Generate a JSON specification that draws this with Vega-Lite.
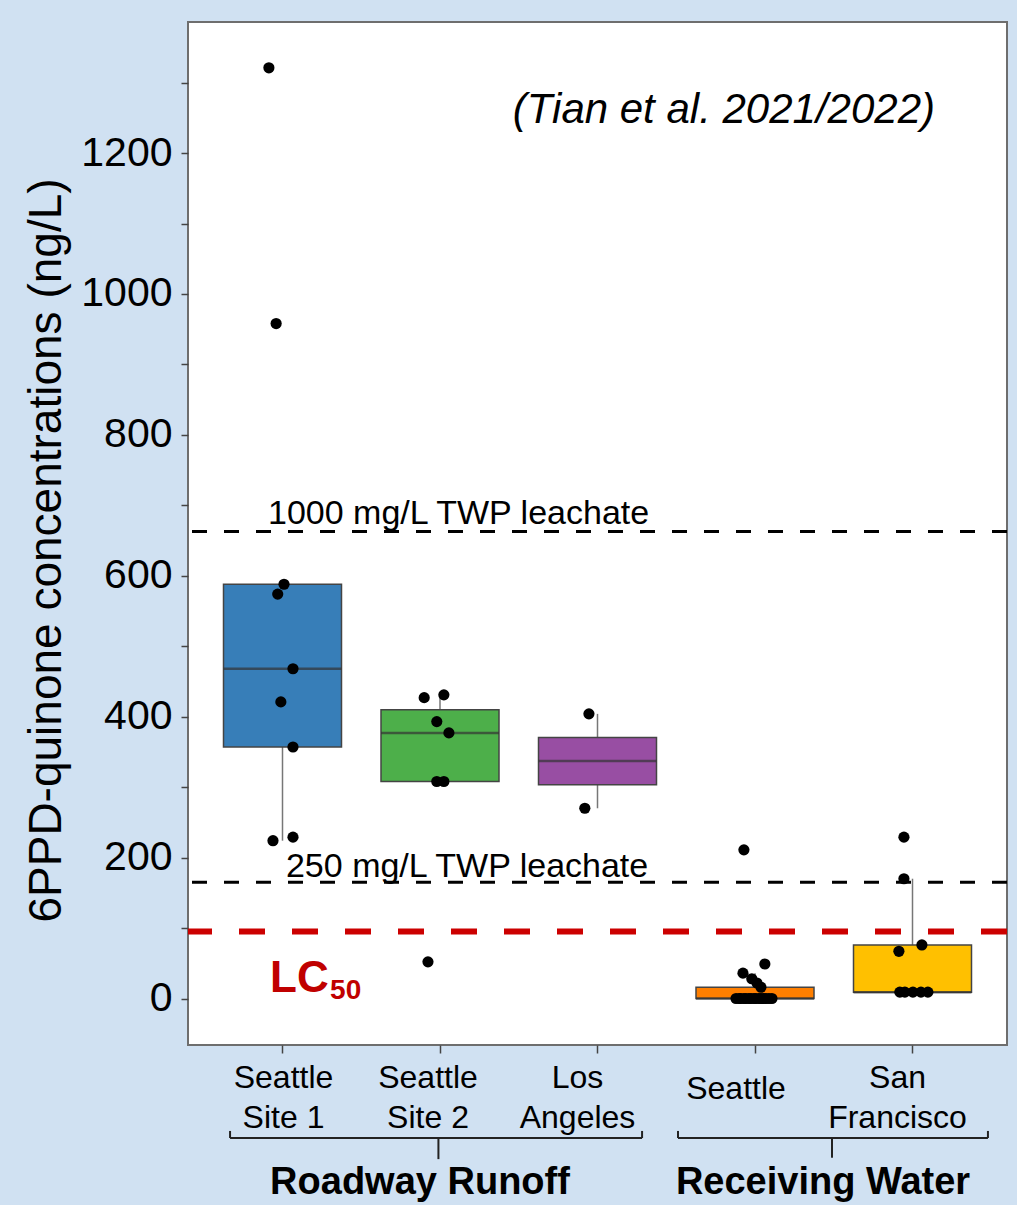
{
  "$schema": "https://vega.github.io/schema/vega-lite/v6.json",
  "width": 819,
  "height": 1023,
  "autosize": {"type": "none"},
  "padding": {"left": 188, "top": 22, "right": 10, "bottom": 160},
  "background": "#d0e1f2",
  "config": {
    "view": {"fill": "white", "stroke": "#6e6e6e", "strokeWidth": 2},
    "font": "Liberation Sans"
  },
  "datasets": {
    "samples": [
      {"site": "Seattle Site 1", "value": 1321, "jitter": -0.086},
      {"site": "Seattle Site 1", "value": 958, "jitter": -0.04},
      {"site": "Seattle Site 1", "value": 588, "jitter": 0.01},
      {"site": "Seattle Site 1", "value": 574, "jitter": -0.03},
      {"site": "Seattle Site 1", "value": 468, "jitter": 0.067},
      {"site": "Seattle Site 1", "value": 421, "jitter": -0.01},
      {"site": "Seattle Site 1", "value": 357, "jitter": 0.067},
      {"site": "Seattle Site 1", "value": 229, "jitter": 0.067},
      {"site": "Seattle Site 1", "value": 224, "jitter": -0.06},
      {"site": "Seattle Site 2", "value": 431, "jitter": 0.025},
      {"site": "Seattle Site 2", "value": 427, "jitter": -0.1},
      {"site": "Seattle Site 2", "value": 393, "jitter": -0.02},
      {"site": "Seattle Site 2", "value": 377, "jitter": 0.057},
      {"site": "Seattle Site 2", "value": 308, "jitter": -0.02},
      {"site": "Seattle Site 2", "value": 308, "jitter": 0.025},
      {"site": "Seattle Site 2", "value": 52, "jitter": -0.076},
      {"site": "Los Angeles", "value": 404, "jitter": -0.054},
      {"site": "Los Angeles", "value": 270, "jitter": -0.08},
      {"site": "Seattle", "value": 211, "jitter": -0.07},
      {"site": "Seattle", "value": 49, "jitter": 0.063},
      {"site": "Seattle", "value": 36, "jitter": -0.076},
      {"site": "Seattle", "value": 28, "jitter": -0.02},
      {"site": "Seattle", "value": 22, "jitter": 0.013},
      {"site": "Seattle", "value": 16, "jitter": 0.038},
      {"site": "Seattle", "value": 0, "jitter": -0.12},
      {"site": "Seattle", "value": 0, "jitter": -0.1},
      {"site": "Seattle", "value": 0, "jitter": -0.09},
      {"site": "Seattle", "value": 0, "jitter": -0.07},
      {"site": "Seattle", "value": 0, "jitter": -0.057},
      {"site": "Seattle", "value": 0, "jitter": -0.038},
      {"site": "Seattle", "value": 0, "jitter": -0.025},
      {"site": "Seattle", "value": 0, "jitter": -0.006},
      {"site": "Seattle", "value": 0, "jitter": 0.006},
      {"site": "Seattle", "value": 0, "jitter": 0.025},
      {"site": "Seattle", "value": 0, "jitter": 0.038},
      {"site": "Seattle", "value": 0, "jitter": 0.057},
      {"site": "Seattle", "value": 0, "jitter": 0.07},
      {"site": "Seattle", "value": 0, "jitter": 0.089},
      {"site": "Seattle", "value": 0, "jitter": 0.108},
      {"site": "San Francisco", "value": 229, "jitter": -0.054},
      {"site": "San Francisco", "value": 170, "jitter": -0.054},
      {"site": "San Francisco", "value": 76, "jitter": 0.06},
      {"site": "San Francisco", "value": 67, "jitter": -0.086},
      {"site": "San Francisco", "value": 9, "jitter": -0.08},
      {"site": "San Francisco", "value": 9, "jitter": -0.048},
      {"site": "San Francisco", "value": 9, "jitter": 0.054},
      {"site": "San Francisco", "value": 9, "jitter": 0.098},
      {"site": "San Francisco", "value": 9, "jitter": 0.003}
    ]
  },
  "resolve": {"scale": {"x": "independent"}, "axis": {"x": "independent", "y": "independent"}},
  "layer": [
    {
      "data": {"values": [{}]},
      "mark": {"type": "rule", "color": "black", "strokeWidth": 3, "strokeDash": [15, 17]},
      "encoding": {"y": {"datum": 663, "type": "quantitative", "scale": {"domain": [-66, 1386], "nice": false, "zero": false}, "axis": null}}
    },
    {
      "data": {"values": [{}]},
      "mark": {"type": "rule", "color": "black", "strokeWidth": 3, "strokeDash": [15, 17]},
      "encoding": {"y": {"datum": 165, "type": "quantitative", "scale": {"domain": [-66, 1386], "nice": false, "zero": false}, "axis": null}}
    },
    {
      "data": {"values": [{}]},
      "mark": {"type": "rule", "color": "#cc0000", "strokeWidth": 6, "strokeDash": [26, 27]},
      "encoding": {"y": {"datum": 95, "type": "quantitative", "scale": {"domain": [-66, 1386], "nice": false, "zero": false}, "axis": null}}
    },
    {
      "data": {"name": "samples"},
      "encoding": {
        "x": {
          "field": "site",
          "type": "nominal",
          "sort": ["Seattle Site 1", "Seattle Site 2", "Los Angeles", "Seattle", "San Francisco"],
          "scale": {"domain": ["Seattle Site 1", "Seattle Site 2", "Los Angeles", "Seattle", "San Francisco"], "paddingInner": 0.25, "paddingOuter": 0.225},
          "axis": {
            "title": null,
            "domain": false,
            "grid": false,
            "tickSize": 8,
            "tickColor": "#444",
            "tickWidth": 1.5,
            "labelAngle": 0,
            "labelFontSize": 32,
            "labelColor": "black",
            "labelLineHeight": 40,
            "labelPadding": {"condition": {"test": "datum.value === 'Seattle'", "value": 20}, "value": 9},
            "labelOffset": {
              "condition": [
                {"test": "datum.value === 'Seattle Site 2'", "value": -12},
                {"test": "datum.value === 'Los Angeles'", "value": -20},
                {"test": "datum.value === 'Seattle'", "value": -19},
                {"test": "datum.value === 'San Francisco'", "value": -15}
              ],
              "value": 1
            },
            "labelExpr": "datum.value === 'Seattle Site 1' ? ['Seattle', 'Site 1'] : datum.value === 'Seattle Site 2' ? ['Seattle', 'Site 2'] : datum.value === 'Los Angeles' ? ['Los', 'Angeles'] : datum.value === 'San Francisco' ? ['San', 'Francisco'] : datum.label"
          }
        },
        "y": {
          "field": "value",
          "type": "quantitative",
          "scale": {"domain": [-66, 1386], "nice": false, "zero": false},
          "axis": {
            "title": "6PPD-quinone concentrations (ng/L)",
            "titleFontSize": 46,
            "titleFontWeight": "normal",
            "titleColor": "black",
            "titlePadding": 10,
            "titleY": 528,
            "values": [0, 100, 200, 300, 400, 500, 600, 700, 800, 900, 1000, 1100, 1200, 1300],
            "format": "d",
            "labelExpr": "datum.value % 200 === 0 ? datum.label : ''",
            "labelFontSize": 41,
            "labelColor": "black",
            "labelPadding": 9,
            "tickSize": 7,
            "tickColor": "#444",
            "tickWidth": 1.5,
            "domain": false,
            "grid": false
          }
        }
      },
      "layer": [
        {
          "mark": {
            "type": "boxplot",
            "extent": 1.5,
            "size": 118,
            "outliers": false,
            "ticks": false,
            "box": {"stroke": "#444", "strokeWidth": 1.5},
            "median": {"color": "#333", "thickness": 2.5},
            "rule": {"color": "#777", "strokeWidth": 1.5}
          },
          "encoding": {
            "color": {
              "field": "site",
              "type": "nominal",
              "scale": {"domain": ["Seattle Site 1", "Seattle Site 2", "Los Angeles", "Seattle", "San Francisco"], "range": ["#377eb8", "#4daf4a", "#984ea3", "#ff7f00", "#ffc000"]},
              "legend": null
            }
          }
        },
        {
          "mark": {"type": "circle", "size": 125, "color": "black", "opacity": 1},
          "encoding": {
            "xOffset": {"field": "jitter", "type": "quantitative", "scale": {"domain": [-0.5, 0.5], "range": [-19.75, 137.75]}}
          }
        }
      ]
    },
    {
      "data": {"values": [{}]},
      "mark": {"type": "text", "text": "1000 mg/L TWP leachate", "align": "left", "baseline": "alphabetic", "fontSize": 34, "color": "black"},
      "encoding": {
        "x": {"datum": 0.908, "type": "quantitative", "scale": {"domain": [0.4, 5.6], "nice": false, "zero": false}, "axis": null},
        "y": {"datum": 673.5, "type": "quantitative", "scale": {"domain": [-66, 1386], "nice": false, "zero": false}, "axis": null}
      }
    },
    {
      "data": {"values": [{}]},
      "mark": {"type": "text", "text": "250 mg/L TWP leachate", "align": "left", "baseline": "alphabetic", "fontSize": 34, "color": "black"},
      "encoding": {
        "x": {"datum": 1.022, "type": "quantitative", "scale": {"domain": [0.4, 5.6], "nice": false, "zero": false}, "axis": null},
        "y": {"datum": 172.5, "type": "quantitative", "scale": {"domain": [-66, 1386], "nice": false, "zero": false}, "axis": null}
      }
    },
    {
      "data": {"values": [{}]},
      "mark": {"type": "text", "text": "LC", "align": "left", "baseline": "alphabetic", "fontSize": 44, "fontWeight": "bold", "color": "#c00000"},
      "encoding": {
        "x": {"datum": 0.921, "type": "quantitative", "scale": {"domain": [0.4, 5.6], "nice": false, "zero": false}, "axis": null},
        "y": {"datum": 9, "type": "quantitative", "scale": {"domain": [-66, 1386], "nice": false, "zero": false}, "axis": null}
      }
    },
    {
      "data": {"values": [{}]},
      "mark": {"type": "text", "text": "50", "align": "left", "baseline": "alphabetic", "fontSize": 28, "fontWeight": "bold", "color": "#c00000"},
      "encoding": {
        "x": {"datum": 1.302, "type": "quantitative", "scale": {"domain": [0.4, 5.6], "nice": false, "zero": false}, "axis": null},
        "y": {"datum": 0, "type": "quantitative", "scale": {"domain": [-66, 1386], "nice": false, "zero": false}, "axis": null}
      }
    },
    {
      "data": {"values": [{}]},
      "mark": {"type": "text", "text": "(Tian et al. 2021/2022)", "align": "right", "baseline": "alphabetic", "fontSize": 42, "fontStyle": "italic", "color": "black"},
      "encoding": {
        "x": {"datum": 5.143, "type": "quantitative", "scale": {"domain": [0.4, 5.6], "nice": false, "zero": false}, "axis": null},
        "y": {"datum": 1243, "type": "quantitative", "scale": {"domain": [-66, 1386], "nice": false, "zero": false}, "axis": null}
      }
    },
    {
      "data": {"values": [{}]},
      "mark": {"type": "text", "text": "Roadway Runoff", "align": "center", "baseline": "alphabetic", "fontSize": 38, "fontWeight": "bold", "color": "black"},
      "encoding": {
        "x": {"datum": 1.873, "type": "quantitative", "scale": {"domain": [0.4, 5.6], "nice": false, "zero": false}, "axis": null},
        "y": {"datum": -277, "type": "quantitative", "scale": {"domain": [-66, 1386], "nice": false, "zero": false}, "axis": null}
      }
    },
    {
      "data": {"values": [{}]},
      "mark": {"type": "text", "text": "Receiving Water", "align": "center", "baseline": "alphabetic", "fontSize": 38, "fontWeight": "bold", "color": "black"},
      "encoding": {
        "x": {"datum": 4.432, "type": "quantitative", "scale": {"domain": [0.4, 5.6], "nice": false, "zero": false}, "axis": null},
        "y": {"datum": -277, "type": "quantitative", "scale": {"domain": [-66, 1386], "nice": false, "zero": false}, "axis": null}
      }
    },
    {
      "data": {"values": [{}]},
      "mark": {"type": "rule", "color": "#222", "strokeWidth": 2},
      "encoding": {
        "x": {"datum": 0.667, "type": "quantitative", "scale": {"domain": [0.4, 5.6], "nice": false, "zero": false}, "axis": null},
        "x2": {"datum": 3.283},
        "y": {"datum": -198, "type": "quantitative", "scale": {"domain": [-66, 1386], "nice": false, "zero": false}, "axis": null}
      }
    },
    {
      "data": {"values": [{}]},
      "mark": {"type": "rule", "color": "#222", "strokeWidth": 2},
      "encoding": {
        "x": {"datum": 0.667, "type": "quantitative", "scale": {"domain": [0.4, 5.6], "nice": false, "zero": false}, "axis": null},
        "y": {"datum": -198, "type": "quantitative", "scale": {"domain": [-66, 1386], "nice": false, "zero": false}, "axis": null},
        "y2": {"datum": -188}
      }
    },
    {
      "data": {"values": [{}]},
      "mark": {"type": "rule", "color": "#222", "strokeWidth": 2},
      "encoding": {
        "x": {"datum": 3.283, "type": "quantitative", "scale": {"domain": [0.4, 5.6], "nice": false, "zero": false}, "axis": null},
        "y": {"datum": -198, "type": "quantitative", "scale": {"domain": [-66, 1386], "nice": false, "zero": false}, "axis": null},
        "y2": {"datum": -188}
      }
    },
    {
      "data": {"values": [{}]},
      "mark": {"type": "rule", "color": "#222", "strokeWidth": 2},
      "encoding": {
        "x": {"datum": 1.99, "type": "quantitative", "scale": {"domain": [0.4, 5.6], "nice": false, "zero": false}, "axis": null},
        "y": {"datum": -198, "type": "quantitative", "scale": {"domain": [-66, 1386], "nice": false, "zero": false}, "axis": null},
        "y2": {"datum": -228}
      }
    },
    {
      "data": {"values": [{}]},
      "mark": {"type": "rule", "color": "#222", "strokeWidth": 2},
      "encoding": {
        "x": {"datum": 3.511, "type": "quantitative", "scale": {"domain": [0.4, 5.6], "nice": false, "zero": false}, "axis": null},
        "x2": {"datum": 5.479},
        "y": {"datum": -198, "type": "quantitative", "scale": {"domain": [-66, 1386], "nice": false, "zero": false}, "axis": null}
      }
    },
    {
      "data": {"values": [{}]},
      "mark": {"type": "rule", "color": "#222", "strokeWidth": 2},
      "encoding": {
        "x": {"datum": 3.511, "type": "quantitative", "scale": {"domain": [0.4, 5.6], "nice": false, "zero": false}, "axis": null},
        "y": {"datum": -198, "type": "quantitative", "scale": {"domain": [-66, 1386], "nice": false, "zero": false}, "axis": null},
        "y2": {"datum": -188}
      }
    },
    {
      "data": {"values": [{}]},
      "mark": {"type": "rule", "color": "#222", "strokeWidth": 2},
      "encoding": {
        "x": {"datum": 5.479, "type": "quantitative", "scale": {"domain": [0.4, 5.6], "nice": false, "zero": false}, "axis": null},
        "y": {"datum": -198, "type": "quantitative", "scale": {"domain": [-66, 1386], "nice": false, "zero": false}, "axis": null},
        "y2": {"datum": -188}
      }
    },
    {
      "data": {"values": [{}]},
      "mark": {"type": "rule", "color": "#222", "strokeWidth": 2},
      "encoding": {
        "x": {"datum": 4.489, "type": "quantitative", "scale": {"domain": [0.4, 5.6], "nice": false, "zero": false}, "axis": null},
        "y": {"datum": -198, "type": "quantitative", "scale": {"domain": [-66, 1386], "nice": false, "zero": false}, "axis": null},
        "y2": {"datum": -226}
      }
    }
  ]
}
